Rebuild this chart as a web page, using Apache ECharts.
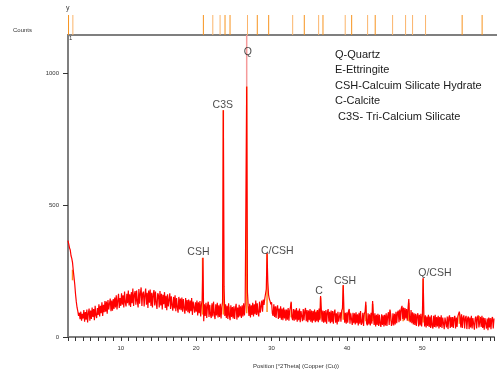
<!DOCTYPE html>
<html>
<head>
<meta charset="utf-8">
<script src="https://cdn.jsdelivr.net/npm/echarts@6/dist/echarts.min.js"></script>
<style>
  html, body { margin: 0; padding: 0; background: #fff; }
  #container_xrd { width: 497px; height: 371px; }
</style>
</head>
<body>
<div id="container_xrd"></div>
<script>
// scan grid: 2theta from 3.0 in steps of 0.1 (one row = one degree)
var thetaStart = 3.0;
var thetaStep = 0.1;
var countRows = [
  [365, 352, 338, 330, 308, 298, 282, 252, 226, 198], // 3
  [162, 134, 112, 98, 80, 92, 68, 96, 62, 88],
  [70, 102, 58, 95, 66, 104, 55, 90, 108, 62],
  [100, 68, 112, 76, 106, 64, 118, 82, 72, 110],
  [84, 124, 78, 118, 90, 132, 80, 122, 94, 136],
  [96, 134, 88, 140, 104, 126, 146, 98, 138, 100],
  [144, 106, 150, 112, 158, 104, 138, 164, 110, 148],
  [118, 166, 122, 158, 112, 172, 130, 116, 164, 128], // 10
  [176, 120, 162, 114, 170, 128, 184, 118, 160, 174],
  [122, 176, 134, 112, 182, 126, 166, 188, 118, 164],
  [172, 116, 160, 184, 122, 168, 110, 176, 130, 180],
  [118, 168, 112, 162, 178, 120, 172, 128, 106, 166],
  [158, 112, 174, 120, 164, 104, 160, 124, 170, 110],
  [156, 102, 162, 116, 110, 166, 106, 154, 120, 100],
  [152, 108, 158, 98, 148, 112, 92, 152, 104, 146],
  [102, 150, 96, 144, 108, 88, 148, 100, 140, 94],
  [142, 90, 138, 98, 148, 84, 134, 140, 92, 132],
  [96, 138, 82, 132, 90, 136, 78, 124, 140, 300], // 20
  [60, 124, 80, 130, 72, 118, 134, 76, 122, 84],
  [72, 128, 78, 134, 86, 68, 124, 82, 130, 74],
  [120, 76, 126, 70, 114, 132, 860, 190, 80, 124],
  [72, 118, 68, 128, 80, 64, 120, 76, 114, 70],
  [116, 68, 110, 126, 66, 112, 74, 122, 78, 116],
  [72, 120, 78, 128, 82, 124, 130, 950, 170, 118],
  [80, 126, 74, 120, 84, 130, 78, 124, 86, 138],
  [84, 128, 90, 78, 134, 92, 116, 138, 96, 142],
  [122, 146, 150, 182, 318, 210, 160, 144, 136, 124],
  [132, 90, 80, 124, 76, 116, 72, 112, 120, 68], // 30
  [108, 72, 116, 66, 108, 64, 112, 70, 104, 62],
  [104, 66, 110, 62, 100, 112, 134, 74, 64, 106],
  [62, 104, 66, 110, 58, 100, 64, 108, 56, 98],
  [104, 60, 106, 64, 98, 110, 60, 102, 56, 100],
  [64, 106, 58, 100, 54, 98, 62, 104, 56, 96],
  [60, 102, 56, 108, 64, 155, 104, 58, 100, 54],
  [98, 56, 102, 50, 94, 106, 58, 96, 52, 100],
  [56, 98, 50, 92, 104, 54, 90, 48, 96, 58],
  [52, 94, 58, 100, 108, 197, 102, 54, 92, 50],
  [94, 54, 98, 106, 50, 90, 96, 46, 92, 52], // 40
  [90, 48, 94, 52, 86, 44, 92, 50, 98, 46],
  [54, 92, 42, 88, 96, 134, 52, 44, 90, 48],
  [86, 44, 92, 50, 136, 86, 46, 90, 40, 84],
  [46, 88, 42, 84, 50, 38, 86, 46, 82, 40],
  [84, 44, 90, 42, 80, 94, 46, 104, 86, 42],
  [50, 90, 44, 88, 48, 96, 52, 92, 100, 56],
  [104, 62, 108, 118, 68, 112, 64, 110, 70, 106],
  [62, 110, 144, 66, 56, 102, 52, 94, 48, 90],
  [46, 88, 42, 82, 90, 40, 84, 44, 88, 40],
  [80, 225, 86, 40, 82, 36, 78, 42, 84, 38], // 50
  [78, 34, 82, 42, 32, 80, 38, 84, 36, 76],
  [40, 80, 32, 76, 38, 82, 34, 74, 78, 30],
  [74, 80, 36, 78, 30, 72, 82, 34, 76, 38],
  [76, 34, 72, 80, 32, 74, 38, 78, 84, 96],
  [78, 36, 86, 34, 74, 82, 32, 72, 80, 30],
  [70, 78, 30, 74, 36, 80, 32, 72, 76, 28],
  [70, 78, 32, 74, 82, 36, 30, 76, 38, 80],
  [34, 74, 28, 72, 78, 32, 70, 26, 74, 36],
  [72, 30, 68, 76, 32, 70] // 59.0 - 59.5
];

// reference pattern sticks in the top strip (two sets)
var refSticksA = [3.07, 20.83, 23.68, 24.34, 27.93, 29.43, 34.12, 36.58, 40.36, 43.46, 54.91, 57.54];
var refSticksB = [3.64, 22.07, 23.03, 26.64, 32.59, 36.01, 39.51, 42.46, 45.75, 47.46, 48.38, 50.09];

// fitted peak markers under the scan: [2theta, from, to]
var peakSticks = [
  [3.6, 215, 255], [20.85, 85, 300], [22.05, 90, 120], [23.05, 85, 115],
  [23.6, 85, 860], [24.35, 85, 115], [26.7, 90, 950], [27.95, 90, 125],
  [29.4, 95, 315], [32.6, 75, 130], [36.0, 70, 100], [36.5, 70, 150],
  [39.5, 65, 195], [40.35, 65, 95], [42.5, 60, 120], [43.4, 60, 125],
  [45.7, 60, 100], [47.45, 60, 110], [48.2, 60, 130], [50.1, 55, 220],
  [54.9, 50, 90], [57.55, 50, 80]
];
// Q peak goes past the top of the plot
var qOverflow = [[26.7, 950, 1200]];

// phase labels
var labelNames = ["Q", "C3S", "CSH", "C/CSH", "C", "CSH", "Q/CSH"];
var labelTheta = [26.85, 23.53, 20.3, 30.76, 36.3, 39.75, 51.66];
var labelCounts = [1081, 879, 323, 327, 174, 213, 243];

var legendLines = [
  "Q-Quartz",
  "E-Ettringite",
  "CSH-Calcuim Silicate Hydrate",
  "C-Calcite",
  "C3S- Tri-Calcium Silicate"
];

var scan = [];
var k = 0;
countRows.forEach(function (row) {
  row.forEach(function (c) {
    scan.push([+(thetaStart + k * thetaStep).toFixed(2), c]);
    k++;
  });
});

function stickItem(color, width) {
  return function (params, api) {
    var p0 = api.coord([api.value(0), api.value(1)]);
    var p1 = api.coord([api.value(0), api.value(2)]);
    return {
      type: "line",
      shape: { x1: p0[0], y1: p0[1], x2: p1[0], y2: p1[1] },
      style: { stroke: color, lineWidth: width }
    };
  };
}

var axisGray = "#7f7f7f";
var font = "Liberation Sans";

var dom = document.getElementById("container_xrd");
var myChart = echarts.init(dom, null, { renderer: "canvas" });

var option = {
  animation: false,
  grid: [
    { left: 68, right: 0, top: 35, bottom: 34 },
    { left: 68, right: 0, top: 12, height: 23 }
  ],
  xAxis: [
    {
      gridIndex: 0,
      type: "value",
      min: 3,
      max: 59.5,
      interval: 1,
      axisLine: { lineStyle: { color: axisGray, width: 2 } },
      axisTick: { show: true, length: 4, lineStyle: { color: "#333" } },
      axisLabel: {
        margin: 8,
        fontSize: 6,
        fontFamily: font,
        color: "#333",
        formatter: function (v) { return v % 10 === 0 ? String(v) : ""; }
      },
      splitLine: { show: false }
    },
    {
      gridIndex: 1,
      type: "value",
      min: 3,
      max: 59.5,
      axisLine: { lineStyle: { color: axisGray, width: 2 } },
      axisTick: { show: false },
      axisLabel: { show: false },
      splitLine: { show: false }
    }
  ],
  yAxis: [
    {
      gridIndex: 0,
      type: "value",
      min: 0,
      max: 1145,
      interval: 500,
      axisLine: { show: true, lineStyle: { color: axisGray, width: 2 } },
      axisTick: { show: true, length: 5, lineStyle: { color: "#333" } },
      axisLabel: {
        margin: 9,
        fontSize: 6,
        fontFamily: font,
        color: "#333",
        showMaxLabel: false,
        formatter: function (v) { return v % 500 === 0 ? String(v) : ""; }
      },
      splitLine: { show: false }
    },
    {
      gridIndex: 1,
      type: "value",
      min: 0,
      max: 1.15,
      show: false
    }
  ],
  series: [
    {
      name: "peaks",
      type: "custom",
      xAxisIndex: 0,
      yAxisIndex: 0,
      renderItem: stickItem("#ff8a1c", 1.5),
      encode: { x: 0, y: [1, 2] },
      data: peakSticks,
      z: 1
    },
    {
      name: "overflow",
      type: "custom",
      xAxisIndex: 0,
      yAxisIndex: 0,
      renderItem: stickItem("#f59a9a", 1.5),
      encode: { x: 0, y: [1, 2] },
      data: qOverflow,
      clip: true,
      z: 1
    },
    {
      name: "scan",
      type: "line",
      xAxisIndex: 0,
      yAxisIndex: 0,
      data: scan,
      showSymbol: false,
      symbol: "none",
      lineStyle: { color: "#ff0000", width: 1.2 },
      clip: true,
      z: 2
    },
    {
      name: "labels",
      type: "scatter",
      xAxisIndex: 0,
      yAxisIndex: 0,
      symbolSize: 0,
      data: labelTheta.map(function (t, i) { return [t, labelCounts[i], labelNames[i]]; }),
      label: {
        show: true,
        position: "inside",
        formatter: function (p) { return p.value[2]; },
        fontSize: 10.5,
        fontFamily: font,
        color: "#1a1a1a"
      },
      z: 5
    },
    {
      name: "refA",
      type: "custom",
      xAxisIndex: 1,
      yAxisIndex: 1,
      renderItem: stickItem("#f7931e", 1),
      encode: { x: 0, y: [1, 2] },
      data: refSticksA.map(function (t) { return [t, 0, 1]; })
    },
    {
      name: "refB",
      type: "custom",
      xAxisIndex: 1,
      yAxisIndex: 1,
      renderItem: stickItem("#fbb46a", 1),
      encode: { x: 0, y: [1, 2] },
      data: refSticksB.map(function (t) { return [t, 0, 1]; })
    }
  ],
  graphic: [
    { type: "text", left: 13, top: 27, style: { text: "Counts", fontSize: 6, fontFamily: font, fill: "#333" } },
    { type: "text", left: 66, top: 5, style: { text: "y", fontSize: 7, fontFamily: font, fill: "#333" } },
    { type: "text", left: 69, top: 35, style: { text: "1", fontSize: 6, fontFamily: font, fill: "#333" } },
    { type: "text", left: 253, top: 363, style: { text: "Position [°2Theta] (Copper (Cu))", fontSize: 6, fontFamily: font, fill: "#333" } },
    { type: "text", left: 335, top: 49, style: { text: legendLines[0], fontSize: 11, fontFamily: font, fill: "#1a1a1a" } },
    { type: "text", left: 335, top: 64, style: { text: legendLines[1], fontSize: 11, fontFamily: font, fill: "#1a1a1a" } },
    { type: "text", left: 335, top: 80, style: { text: legendLines[2], fontSize: 11, fontFamily: font, fill: "#1a1a1a" } },
    { type: "text", left: 335, top: 95, style: { text: legendLines[3], fontSize: 11, fontFamily: font, fill: "#1a1a1a" } },
    { type: "text", left: 338, top: 111, style: { text: legendLines[4], fontSize: 11, fontFamily: font, fill: "#1a1a1a" } }
  ]
};

if (option && typeof option === "object") {
  myChart.setOption(option);
}

window.addEventListener("resize", myChart.resize);
</script>
</body>
</html>
